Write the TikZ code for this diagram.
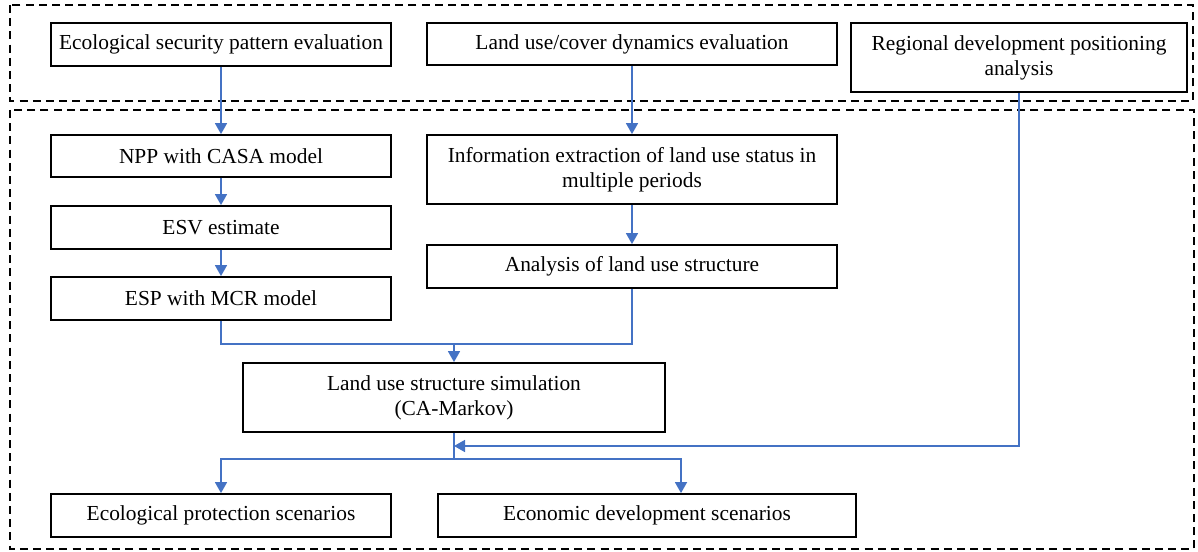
\documentclass[tikz,border=0pt]{standalone}
\usepackage{fontspec}
\setmainfont{Liberation Serif}
\usetikzlibrary{positioning,calc,arrows.meta}
\definecolor{flowblue}{HTML}{4472C4}

\begin{document}
\begin{tikzpicture}[x=0.5pt,y=-0.5pt,
		box/.style={draw=black,line width=0.9pt,align=center,inner sep=2pt,font=\fontsize{10.7}{12.6}\selectfont},
		flow/.style={draw=flowblue,line width=0.8pt,-{Triangle[length=5.5pt,width=6pt]}},
		link/.style={draw=flowblue,line width=0.8pt},
		frame/.style={draw=black,line width=0.8pt,dash pattern=on 4pt off 2.6pt}]
		\useasboundingbox (0,0) rectangle (1198,551);
%		the two dashed stages
		\draw[frame] (10,5) rectangle (1193,101);
		\draw[frame] (10,110) rectangle (1194,549);
		\node[box,minimum width=170pt,minimum height=21.5pt] (eva) at (221,44.5) {Ecological security pattern evaluation};
		\node[box,minimum width=205pt,minimum height=21pt] (lucd) at (632,44) {Land use/cover dynamics evaluation};
		\node[box,minimum width=168pt,minimum height=34.5pt] (reg) at (1019,57.5) {Regional development positioning\\analysis};
		\node[box,minimum width=170pt,minimum height=21pt] (npp) at (221,156) {NPP with CASA model};
		\node[box,minimum width=205pt,minimum height=34.5pt] (info) at (632,169.5) {Information extraction of land use status in\\multiple periods};
		\node[box,minimum width=170pt,minimum height=21.5pt] (esv) at (221,227.5) {ESV estimate};
		\node[box,minimum width=205pt,minimum height=21.5pt] (anal) at (632,266.5) {Analysis of land use structure};
		\node[box,minimum width=170pt,minimum height=21.5pt] (esp) at (221,298.5) {ESP with MCR model};
		\node[box,minimum width=211pt,minimum height=34.5pt] (sim) at (454,397.5) {Land use structure simulation\\(CA-Markov)};
		\node[box,minimum width=170pt,minimum height=21.5pt] (pro) at (221,515.5) {Ecological protection scenarios};
		\node[box,minimum width=209pt,minimum height=21.5pt] (eco) at (647,515.5) {Economic development scenarios};
		\coordinate (mg) at (454,344);
		\coordinate (fb) at (454,446);
		\coordinate (sp) at (454,459);
%		connectors
		\draw[flow] (eva) -- (npp);
		\draw[flow] (npp) -- (esv);
		\draw[flow] (esv) -- (esp);
		\draw[flow] (lucd) -- (info);
		\draw[flow] (info) -- (anal);
		\draw[link] (esp.south) |- (mg);
		\draw[link] (anal.south) |- (mg);
		\draw[flow] (mg) -- (sim.north);
		\draw[flow] (reg.south) |- (fb);
		\draw[link] (sim.south) -- (sp);
		\draw[flow] (sp) -| (pro.north);
		\draw[flow] (sp) -| ([xshift=17pt]eco.north);
	\end{tikzpicture}
\end{document}
